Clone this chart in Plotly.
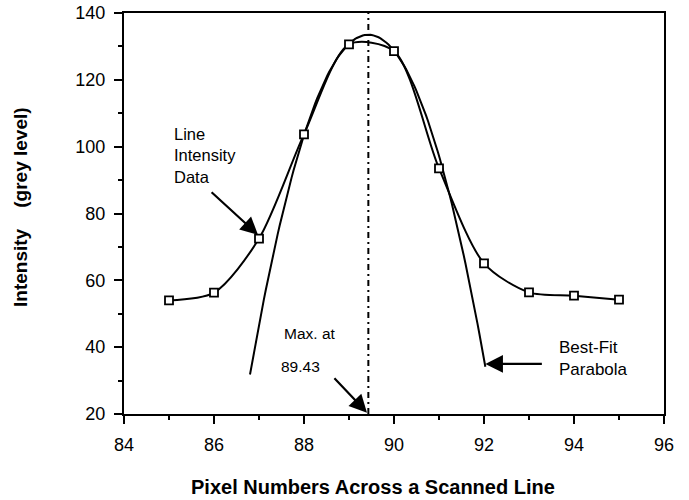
import numpy as np
import plotly.graph_objects as go

# Line intensity data
pixels = [85, 86, 87, 88, 89, 90, 91, 92, 93, 94, 95]
intensity = [54.0, 56.3, 72.5, 103.7, 130.6, 128.6, 93.5, 65.1, 56.4, 55.4, 54.2]

# Best-fit parabola parameters (vertex, peak, curvature, drawn x-range)
vertex_x = 89.43
peak_val = 133.5
curvature = 14.7
fit_range = [86.8, 92.03]

x_ticks = [84, 86, 88, 90, 92, 94, 96]
y_ticks = [20, 40, 60, 80, 100, 120, 140]

FONT = "Liberation Sans, Arial, Helvetica, sans-serif"

px_fit = np.linspace(fit_range[0], fit_range[1], 120)
py_fit = peak_val - curvature * (px_fit - vertex_x) ** 2

fig = go.Figure()

fig.add_trace(go.Scatter(
    x=[vertex_x, vertex_x], y=[20, 140], mode="lines",
    line=dict(color="black", width=2, dash="6px,4px,2px,4px"),
    hoverinfo="skip", showlegend=False))

fig.add_trace(go.Scatter(
    x=px_fit, y=py_fit, mode="lines",
    line=dict(color="black", width=2), showlegend=False))

fig.add_trace(go.Scatter(
    x=pixels, y=intensity, mode="lines+markers",
    line=dict(color="black", width=2, shape="spline", smoothing=0.8),
    marker=dict(symbol="square", size=8, color="white",
                line=dict(color="black", width=1.8)),
    showlegend=False))

axis_common = dict(
    showgrid=False, zeroline=False, showline=True, linecolor="black",
    linewidth=2, mirror=True, ticks="outside", tickcolor="black",
    tickwidth=2, ticklen=8, automargin=False, ticklabelstandoff=5,
    tickfont=dict(family=FONT, size=18, color="black"),
)

fig.update_xaxes(range=[84, 96], tickvals=x_ticks,
                 minor=dict(dtick=1, ticks="outside", ticklen=4,
                            tickwidth=2, tickcolor="black"),
                 **axis_common)
fig.update_yaxes(range=[20, 140], tickvals=y_ticks,
                 minor=dict(dtick=10, ticks="outside", ticklen=4,
                            tickwidth=2, tickcolor="black"),
                 **axis_common)

# plot area in pixels: left 124, right 664, top 13, bottom 414
def px_to_paper(px, py):
    return (px - 124) / 540, (414 - py) / 401

ann_font = dict(family=FONT, size=16.5, color="black")
xt_x, xt_y = px_to_paper(373, 487)
yt_x, yt_y = px_to_paper(21, 207)
annotations = [
    # text labels
    dict(x=85.07, y=97.4, text="Line<br>Intensity<br>Data", showarrow=False,
         xanchor="left", yanchor="middle", align="left", font=ann_font),
    dict(x=87.5, y=44.2, text="Max. at", showarrow=False,
         xanchor="left", yanchor="middle",
         font=dict(family=FONT, size=15.5, color="black")),
    dict(x=87.45, y=34.1, text="89.43", showarrow=False,
         xanchor="left", yanchor="middle",
         font=dict(family=FONT, size=15.5, color="black")),
    dict(x=93.62, y=36.6, text="Best-Fit<br>Parabola", showarrow=False,
         xanchor="left", yanchor="middle", align="left",
         font=dict(family=FONT, size=17, color="black")),
    # arrows
    dict(x=86.98, y=73.6, text="", showarrow=True, ax=-48, ay=-44,
         arrowhead=2, arrowsize=1.6, arrowwidth=2.2, arrowcolor="black",
         standoff=0),
    dict(x=89.4, y=20.4, text="", showarrow=True, ax=-34, ay=-36,
         arrowhead=2, arrowsize=1.6, arrowwidth=2.2, arrowcolor="black",
         standoff=0),
    dict(x=92.03, y=35.0, text="", showarrow=True, ax=58, ay=0,
         arrowhead=2, arrowsize=1.6, arrowwidth=2.2, arrowcolor="black",
         standoff=0),
    # axis titles
    dict(x=xt_x, y=xt_y, xref="paper", yref="paper",
         text="<b>Pixel Numbers Across a Scanned Line</b>", showarrow=False,
         xanchor="center", yanchor="middle",
         font=dict(family=FONT, size=20, color="black")),
    dict(x=yt_x, y=yt_y, xref="paper", yref="paper",
         text="<b>Intensity &nbsp;&nbsp;&nbsp;(grey level)</b>",
         showarrow=False,
         textangle=-90, xanchor="center", yanchor="middle",
         font=dict(family=FONT, size=19, color="black")),
]
for a in annotations:
    fig.add_annotation(**a)

fig.update_layout(
    width=689, height=500,
    margin=dict(l=124, r=25, t=13, b=86),
    plot_bgcolor="white", paper_bgcolor="white",
    font=dict(family=FONT, color="black"),
)

fig.write_html("out.html")
